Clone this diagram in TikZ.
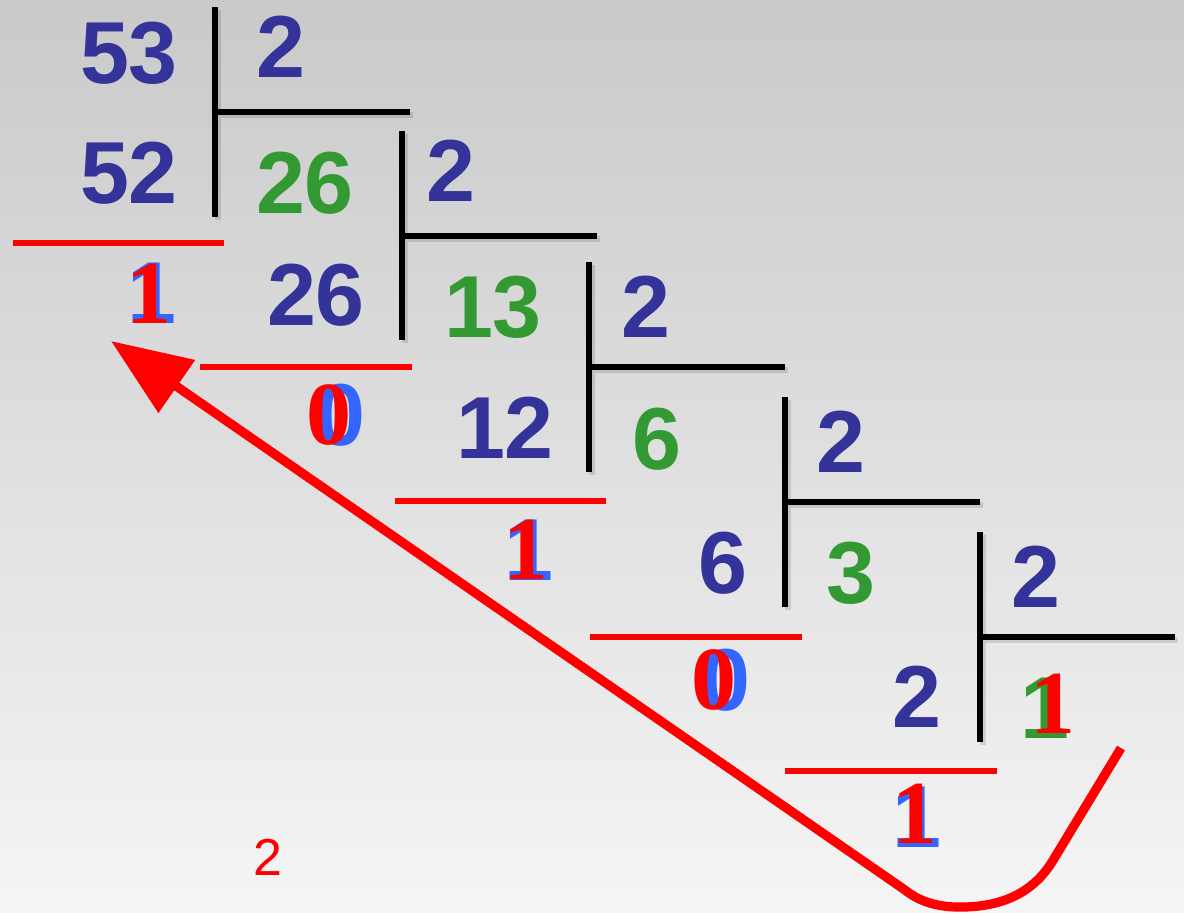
\documentclass[tikz,border=0pt]{standalone}
\usepackage{fontspec}
\usepackage{tikz}
\usetikzlibrary{arrows.meta}
\setmainfont{Liberation Sans}
\newfontfamily\serifdigits{Liberation Serif}
\definecolor{numblue}{HTML}{333399}
\definecolor{numgreen}{HTML}{339933}
\definecolor{remblue}{HTML}{3366FF}
\definecolor{remred}{HTML}{FF0000}

\tikzset{
	num/.style={anchor=base,inner sep=0pt,font=\fontsize{44}{44}\selectfont\bfseries},
	dividend/.style={num,text=numblue},
	quotient/.style={num,text=numgreen},
	remback/.style={num,text=remblue},
	remfront/.style={num,text=remred,font=\fontsize{45}{45}\selectfont\serifdigits\bfseries},
	bar/.style={line width=2.6pt,black},
	barshadow/.style={line width=3pt,black,opacity=0.12},
	underline/.style={line width=2.7pt,remred},
	arrowline/.style={line width=4.6pt,remred,line join=round,-{Triangle[length=40pt,width=31pt]}}
}

\begin{document}
\begin{tikzpicture}[x=0.5pt,y=-0.5pt]

	\useasboundingbox (0,0) rectangle (1184,912);
	\shade[top color=black!21,bottom color=black!4] (0,0) rectangle (1184,912);

	\draw[barshadow] (218,10) -- (218,220) (218,115) -- (413,115);
	\draw[barshadow] (405,134) -- (405,343) (405,239) -- (600,239);
	\draw[barshadow] (592,265) -- (592,475) (592,370) -- (788,370);
	\draw[barshadow] (788,400) -- (788,610) (788,505) -- (983,505);
	\draw[barshadow] (983,535) -- (983,745) (983,640) -- (1178,640);

	\draw[bar] (215,7) -- (215,217) (215,112) -- (410,112);
	\draw[bar] (402,131) -- (402,340) (402,236) -- (597,236);
	\draw[bar] (589,262) -- (589,472) (589,367) -- (785,367);
	\draw[bar] (785,397) -- (785,607) (785,502) -- (980,502);
	\draw[bar] (980,532) -- (980,742) (980,637) -- (1175,637);

	\draw[underline] (13,243) -- (224,243);
	\draw[underline] (200,367) -- (412,367);
	\draw[underline] (395,501) -- (606,501);
	\draw[underline] (590,637) -- (802,637);
	\draw[underline] (785,771) -- (997,771);

	\node[dividend] (n53) at (129,83)     {53};
	\node[dividend] (d0) at (281,77)     {2};
	\node[dividend] (s52) at (129,203)     {52};
	\node[quotient] (q26) at (305,213)     {26};

	\node[dividend] (d1) at (451,201)     {2};
	\node[dividend] (s26) at (316,325)     {26};
	\node[quotient] (q13) at (493,337)     {13};

	\node[dividend] (d2) at (646,337)     {2};
	\node[dividend] (s12) at (505,458)     {12};
	\node[quotient] (q6) at (657,469)     {6};

	\node[dividend] (d3) at (841,472)     {2};
	\node[dividend] (s6) at (723,593)     {6};
	\node[quotient] (q3) at (851,603)     {3};

	\node[dividend] (d4) at (1036,607)     {2};
	\node[dividend] (s2) at (917,727)     {2};
	\node[quotient] (q1) at (1045,738)     {1};
	\node[remfront] (q1r) at (1053,733)     {1};

	\node[remback] (r0b) at (152,323)     {1};
	\node[remfront] (r0) at (149,323)     {1};
	\node[remback] (r1b) at (341,445)     {0};
	\node[remfront] (r1) at (329,444)     {0};
	\node[remback] (r2b) at (529,580)     {1};
	\node[remfront] (r2) at (526,579)     {1};
	\node[remback] (r3b) at (726,710)     {0};
	\node[remfront] (r3) at (714,709)     {0};
	\node[remback] (r4b) at (917,847)     {1};
	\node[remfront] (r4) at (915,843)     {1};

	\node[anchor=base,inner sep=0pt,text=remred,font=\fontsize{26}{26}\selectfont] (note) at (268,875)     {2};

	\coordinate (start) at (1121,748);
	\coordinate (kink) at (1052,862);
	\coordinate (bottom) at (955,907);
	\coordinate (turn) at (905,890);
	\coordinate (tip) at (111,341);

	\draw[arrowline] (start) -- (kink) .. controls (1030,897) and (995,908) .. (bottom) .. controls (930,906) and (915,898) .. (turn) -- (tip);

\end{tikzpicture}
\end{document}
